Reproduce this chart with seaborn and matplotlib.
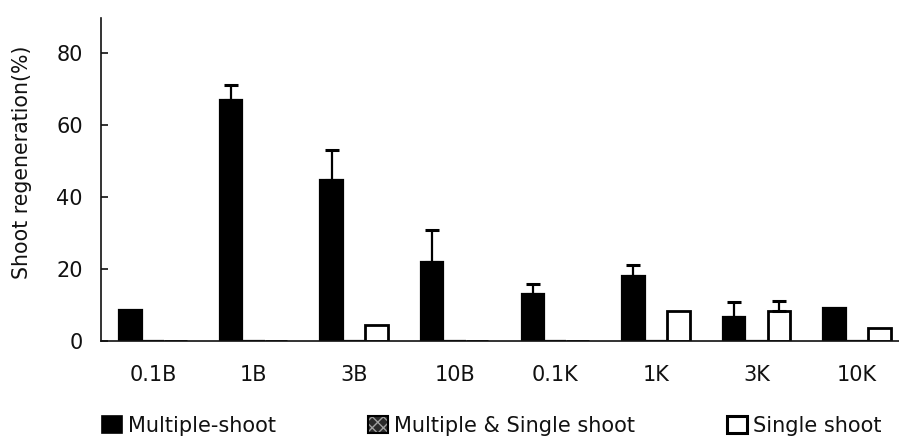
import matplotlib
matplotlib.use("Agg")
import matplotlib.pyplot as plt
from matplotlib.patches import Patch
from matplotlib.legend_handler import HandlerTuple
import seaborn as sns
import pandas as pd
import numpy as np

categories = ['0.1B', '1B', '3B', '10B', '0.1K', '1K', '3K', '10K']
series_names = ['Multiple-shoot', 'Multiple & Single shoot', 'Single shoot']
multiple_shoot = [8.5, 67.0, 44.7, 22.0, 13.1, 18.0, 6.6, 9.1]
multiple_err = [0.0, 4.0, 8.3, 8.8, 2.6, 3.1, 4.1, 0.0]
mixed_shoot = [0, 0, 0, 0, 0, 0, 0, 0]
mixed_err = [0, 0, 0, 0, 0, 0, 0, 0]
single_shoot = [0, 0, 4.5, 0, 0, 8.4, 8.4, 3.6]
single_err = [0, 0, 0, 0, 0, 0, 2.8, 0]
y_ticks = [0, 20, 40, 60, 80]
y_label = 'Shoot regeneration(%)'

values = [multiple_shoot, mixed_shoot, single_shoot]
errors = [multiple_err, mixed_err, single_err]

df = pd.DataFrame({
    'category': np.tile(categories, 3),
    'value': np.concatenate([np.asarray(v, float) for v in values]),
    'series': np.repeat(series_names, len(categories)),
})

sns.set_style('ticks')
plt.rcParams['font.family'] = ['DejaVu Sans']
plt.rcParams['text.color'] = '#111111'

fig = plt.figure(figsize=(8.99, 4.38), dpi=100)
ax = fig.add_axes([101 / 899, 1 - 341 / 438, 798 / 899, 323 / 438])

palette = {'Multiple-shoot': 'black', 'Multiple & Single shoot': '#2e2e2e',
           'Single shoot': 'white'}
sns.barplot(data=df, x='category', y='value', hue='series', order=categories,
            hue_order=series_names, palette=palette, width=0.67, errorbar=None,
            legend=False, edgecolor='black', linewidth=1.6, saturation=1, ax=ax)

bar_containers = list(ax.containers)
for i, cont in enumerate(bar_containers):
    for bar in cont:
        bar.set_edgecolor('black')
        if i == 2:
            bar.set_linewidth(2.0)
    xs = np.array([b.get_x() + b.get_width() / 2 for b in cont])
    ys = np.array([b.get_height() for b in cont])
    err = np.asarray(errors[i], float)
    m = err > 0
    if m.any():
        ax.errorbar(xs[m], ys[m], yerr=[np.zeros(m.sum()), err[m]], fmt='none',
                    ecolor='black', elinewidth=1.6, capsize=5, capthick=2.2,
                    zorder=3)

ax.set_xlim(-0.517, 7.418)
ax.set_ylim(0, 89.7)
ax.set_yticks(y_ticks)
ax.set_xlabel('')
ax.set_ylabel(y_label, fontsize=14.8, va='center', color='#111111')
ax.yaxis.set_label_coords((22 - 101) / 798, (341 - 162.5) / 323)

sns.despine(ax=ax)
for s in ['left', 'bottom']:
    ax.spines[s].set_linewidth(1.2)
    ax.spines[s].set_color('#111111')
ax.tick_params(axis='y', direction='in', length=5, width=1.2, labelsize=15,
               pad=13, colors='#111111')
ax.tick_params(axis='x', length=0, labelsize=15, pad=17.5, colors='#111111')

h_black = Patch(facecolor='black', edgecolor='black', linewidth=1.2)
h_hatch_fill = Patch(facecolor='#2a2a2a', edgecolor='#a0a0a0', hatch='xxx',
                     linewidth=0)
h_hatch_edge = Patch(facecolor='none', edgecolor='black', linewidth=1.5)
h_white = Patch(facecolor='white', edgecolor='black', linewidth=2.2)
fig.legend([h_black, (h_hatch_fill, h_hatch_edge), h_white], series_names,
           handler_map={tuple: HandlerTuple(ndivide=1, pad=0)},
           loc='center left', bbox_to_anchor=(102 / 899, 1 - 426 / 438),
           ncol=3, frameon=False, fontsize=15, borderpad=0, borderaxespad=0,
           handlelength=0.96, handleheight=0.9, handletextpad=0.3,
           columnspacing=4.4)

fig.savefig('out.png', dpi=100)
